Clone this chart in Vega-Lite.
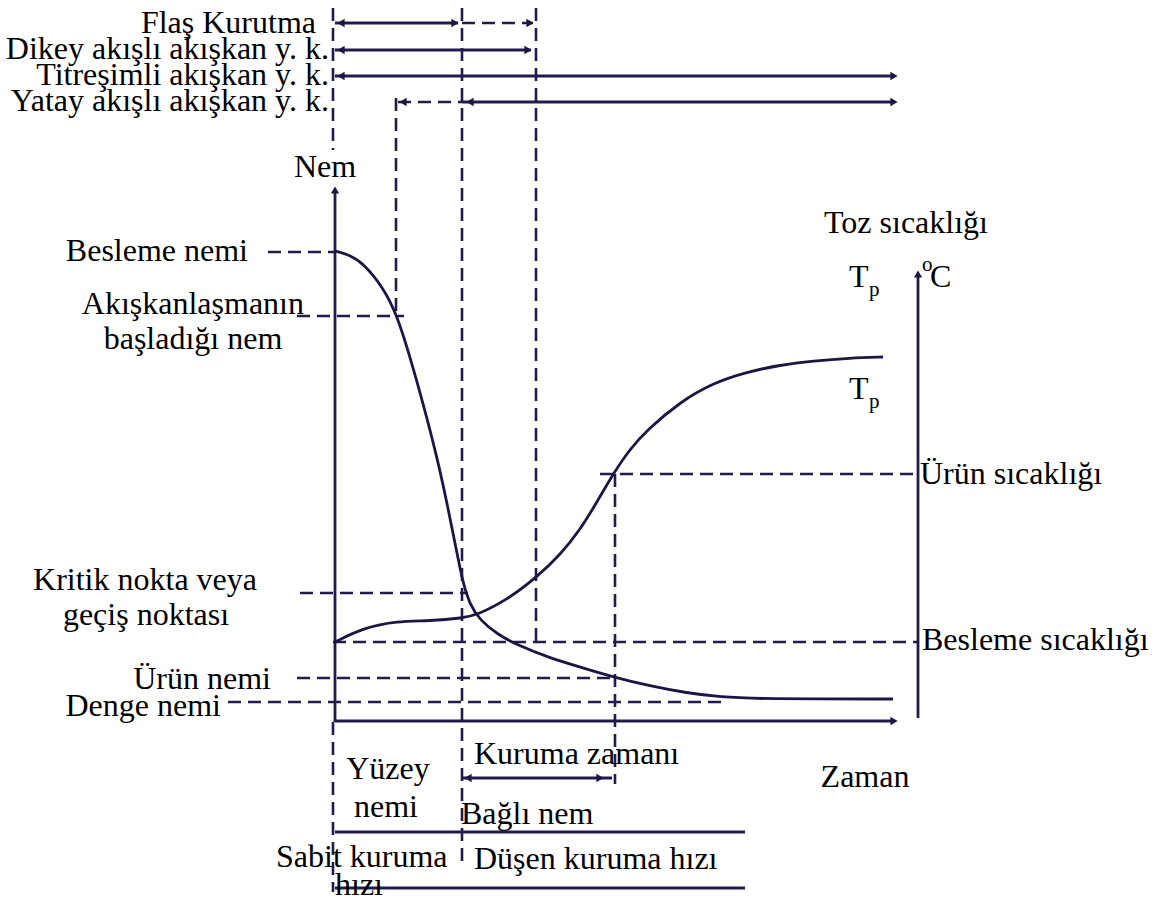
{
  "$schema": "https://vega.github.io/schema/vega-lite/v6.json",
  "width": 1157,
  "height": 902,
  "autosize": {"type": "fit", "contains": "padding"},
  "padding": 0,
  "background": "#ffffff",
  "config": {"view": {"stroke": null}, "text": {"font": "Times New Roman"}},
  "datasets": {
    "solid": [
      {"name": "nem ekseni", "x": 335, "y": 722, "x2": 335, "y2": 192},
      {"name": "zaman ekseni", "x": 335, "y": 721, "x2": 894, "y2": 721},
      {"name": "sıcaklık ekseni", "x": 918, "y": 718, "x2": 918, "y2": 276},
      {"name": "Flaş", "x": 335, "y": 23, "x2": 458, "y2": 23},
      {"name": "Dikey", "x": 335, "y": 50, "x2": 531, "y2": 50},
      {"name": "Titreşimli", "x": 335, "y": 76, "x2": 894, "y2": 76},
      {"name": "Yatay", "x": 462, "y": 102, "x2": 894, "y2": 102},
      {"name": "Kuruma zamanı", "x": 462, "y": 778, "x2": 612, "y2": 778},
      {"name": "Bağlı nem", "x": 335, "y": 832, "x2": 745, "y2": 832},
      {"name": "Düşen kuruma hızı", "x": 335, "y": 888, "x2": 745, "y2": 888}
    ],
    "dashed": [
      {"name": "sol üst", "x": 333, "y": 8, "x2": 333, "y2": 150},
      {"name": "sol alt", "x": 333, "y": 722, "x2": 333, "y2": 892},
      {"name": "kritik dikey", "x": 462, "y": 8, "x2": 462, "y2": 864},
      {"name": "flaş sonu", "x": 536, "y": 8, "x2": 536, "y2": 642},
      {"name": "yatay başlangıç", "x": 396, "y": 98, "x2": 396, "y2": 316},
      {"name": "ürün dikey", "x": 615, "y": 474, "x2": 615, "y2": 784},
      {"name": "Flaş kesik", "x": 462, "y": 23, "x2": 533, "y2": 23},
      {"name": "Yatay kesik", "x": 398, "y": 102, "x2": 462, "y2": 102},
      {"name": "Besleme nemi", "x": 268, "y": 252, "x2": 335, "y2": 252},
      {"name": "Akışkanlaşma", "x": 297, "y": 316, "x2": 404, "y2": 316},
      {"name": "Kritik", "x": 300, "y": 593, "x2": 468, "y2": 593},
      {"name": "Besleme sıcaklığı", "x": 333, "y": 642, "x2": 918, "y2": 642},
      {"name": "Ürün sıcaklığı", "x": 600, "y": 474, "x2": 918, "y2": 474},
      {"name": "Ürün nemi", "x": 297, "y": 678, "x2": 615, "y2": 678},
      {"name": "Denge nemi", "x": 228, "y": 702, "x2": 722, "y2": 702}
    ],
    "curves": [
      {"curve": "nem", "i": 1, "x": 335, "y": 251},
      {"curve": "nem", "i": 2, "x": 350, "y": 255},
      {"curve": "nem", "i": 3, "x": 363, "y": 263},
      {"curve": "nem", "i": 4, "x": 383, "y": 287},
      {"curve": "nem", "i": 5, "x": 397, "y": 315},
      {"curve": "nem", "i": 6, "x": 410, "y": 357},
      {"curve": "nem", "i": 7, "x": 423, "y": 403},
      {"curve": "nem", "i": 8, "x": 437, "y": 457},
      {"curve": "nem", "i": 9, "x": 447, "y": 503},
      {"curve": "nem", "i": 10, "x": 457, "y": 553},
      {"curve": "nem", "i": 11, "x": 463, "y": 583},
      {"curve": "nem", "i": 12, "x": 470, "y": 605},
      {"curve": "nem", "i": 13, "x": 480, "y": 620},
      {"curve": "nem", "i": 14, "x": 497, "y": 634},
      {"curve": "nem", "i": 15, "x": 517, "y": 645},
      {"curve": "nem", "i": 16, "x": 550, "y": 658},
      {"curve": "nem", "i": 17, "x": 580, "y": 667},
      {"curve": "nem", "i": 18, "x": 613, "y": 677},
      {"curve": "nem", "i": 19, "x": 650, "y": 686},
      {"curve": "nem", "i": 20, "x": 687, "y": 693},
      {"curve": "nem", "i": 21, "x": 720, "y": 697},
      {"curve": "nem", "i": 22, "x": 760, "y": 699},
      {"curve": "nem", "i": 23, "x": 893, "y": 699},
      {"curve": "sıcaklık", "i": 1, "x": 335, "y": 642},
      {"curve": "sıcaklık", "i": 2, "x": 363, "y": 628},
      {"curve": "sıcaklık", "i": 3, "x": 397, "y": 621},
      {"curve": "sıcaklık", "i": 4, "x": 430, "y": 621},
      {"curve": "sıcaklık", "i": 5, "x": 463, "y": 618},
      {"curve": "sıcaklık", "i": 6, "x": 477, "y": 615},
      {"curve": "sıcaklık", "i": 7, "x": 507, "y": 600},
      {"curve": "sıcaklık", "i": 8, "x": 537, "y": 577},
      {"curve": "sıcaklık", "i": 9, "x": 560, "y": 555},
      {"curve": "sıcaklık", "i": 10, "x": 580, "y": 530},
      {"curve": "sıcaklık", "i": 11, "x": 597, "y": 502},
      {"curve": "sıcaklık", "i": 12, "x": 613, "y": 474},
      {"curve": "sıcaklık", "i": 13, "x": 630, "y": 449},
      {"curve": "sıcaklık", "i": 14, "x": 647, "y": 430},
      {"curve": "sıcaklık", "i": 15, "x": 680, "y": 402},
      {"curve": "sıcaklık", "i": 16, "x": 713, "y": 383},
      {"curve": "sıcaklık", "i": 17, "x": 747, "y": 372},
      {"curve": "sıcaklık", "i": 18, "x": 780, "y": 365},
      {"curve": "sıcaklık", "i": 19, "x": 813, "y": 361},
      {"curve": "sıcaklık", "i": 20, "x": 850, "y": 358},
      {"curve": "sıcaklık", "i": 21, "x": 883, "y": 357}
    ],
    "heads": [
      {"x": 335, "y": 190, "dir": "up"},
      {"x": 918, "y": 274, "dir": "up"},
      {"x": 894, "y": 721, "dir": "right"},
      {"x": 341, "y": 23, "dir": "left"},
      {"x": 455, "y": 23, "dir": "right"},
      {"x": 530, "y": 23, "dir": "right"},
      {"x": 341, "y": 50, "dir": "left"},
      {"x": 528, "y": 50, "dir": "right"},
      {"x": 341, "y": 76, "dir": "left"},
      {"x": 894, "y": 76, "dir": "right"},
      {"x": 403, "y": 102, "dir": "left"},
      {"x": 470, "y": 102, "dir": "left"},
      {"x": 894, "y": 102, "dir": "right"},
      {"x": 468, "y": 778, "dir": "left"},
      {"x": 600, "y": 778, "dir": "right"}
    ],
    "labels": [
      {"text": "Flaş Kurutma", "x": 316, "y": 23, "align": "right"},
      {"text": "Dikey akışlı akışkan y. k.", "x": 329, "y": 49, "align": "right"},
      {"text": "Titreşimli akışkan y. k.", "x": 329, "y": 75, "align": "right"},
      {"text": "Yatay akışlı akışkan y. k.", "x": 329, "y": 101, "align": "right"},
      {"text": "Besleme nemi", "x": 248, "y": 251, "align": "right"},
      {"text": "Akışkanlaşmanın", "x": 304, "y": 304, "align": "right"},
      {"text": "Kritik nokta veya", "x": 257, "y": 580, "align": "right"},
      {"text": "Ürün nemi", "x": 271, "y": 679, "align": "right"},
      {"text": "Denge nemi", "x": 221, "y": 706, "align": "right"},
      {"text": "Nem", "x": 325, "y": 167, "align": "center"},
      {"text": "başladığı nem", "x": 193, "y": 339, "align": "center"},
      {"text": "geçiş noktası", "x": 146, "y": 615, "align": "center"},
      {"text": "Toz  sıcaklığı", "x": 906, "y": 223, "align": "center"},
      {"text": "Yüzey", "x": 388, "y": 769, "align": "center"},
      {"text": "nemi", "x": 386, "y": 807, "align": "center"},
      {"text": "Zaman", "x": 865, "y": 777, "align": "center"},
      {"text": "Besleme sıcaklığı", "x": 922, "y": 640, "align": "left"},
      {"text": "Ürün sıcaklığı", "x": 920, "y": 474, "align": "left"},
      {"text": "Kuruma zamanı", "x": 474, "y": 754, "align": "left"},
      {"text": "Bağlı nem", "x": 461, "y": 814, "align": "left"},
      {"text": "Sabit kuruma", "x": 276, "y": 857, "align": "left"},
      {"text": "hızı", "x": 335, "y": 885, "align": "left"},
      {"text": "Düşen kuruma hızı", "x": 474, "y": 859, "align": "left"},
      {"text": "T", "x": 849, "y": 277, "align": "left"},
      {"text": "C", "x": 930, "y": 277, "align": "left"},
      {"text": "T", "x": 849, "y": 389, "align": "left"}
    ],
    "small": [
      {"text": "p", "x": 869, "y": 290},
      {"text": "o", "x": 922, "y": 265},
      {"text": "p", "x": 869, "y": 402}
    ]
  },
  "encoding": {
    "x": {"field": "x", "type": "quantitative", "axis": null,
          "scale": {"domain": [0, 1157], "nice": false, "zero": false}},
    "y": {"field": "y", "type": "quantitative", "axis": null,
          "scale": {"domain": [0, 902], "reverse": true, "nice": false, "zero": false}}
  },
  "layer": [
    {
      "data": {"name": "dashed"},
      "mark": {"type": "rule", "color": "#221b4b", "strokeWidth": 2.6, "strokeDash": [13, 7]},
      "encoding": {"x2": {"field": "x2"}, "y2": {"field": "y2"}}
    },
    {
      "data": {"name": "solid"},
      "mark": {"type": "rule", "color": "#221b4b", "strokeWidth": 2.8},
      "encoding": {"x2": {"field": "x2"}, "y2": {"field": "y2"}}
    },
    {
      "data": {"name": "curves"},
      "mark": {"type": "line", "color": "#1c1642", "strokeWidth": 2.8, "interpolate": "basis"},
      "encoding": {
        "detail": {"field": "curve"},
        "order": {"field": "i", "type": "quantitative"}
      }
    },
    {
      "data": {"name": "heads"},
      "mark": {"type": "point", "filled": true, "color": "#1c1642", "opacity": 1, "size": 70},
      "encoding": {
        "shape": {"field": "dir", "type": "nominal", "legend": null,
                  "scale": {"domain": ["left", "right", "up"],
                            "range": ["triangle-left", "triangle-right", "triangle-up"]}}
      }
    },
    {
      "data": {"name": "labels"},
      "transform": [{"filter": "datum.align === 'right'"}],
      "mark": {"type": "text", "align": "right", "baseline": "middle", "fontSize": 32, "color": "#000000"},
      "encoding": {"text": {"field": "text"}}
    },
    {
      "data": {"name": "labels"},
      "transform": [{"filter": "datum.align === 'center'"}],
      "mark": {"type": "text", "align": "center", "baseline": "middle", "fontSize": 32, "color": "#000000"},
      "encoding": {"text": {"field": "text"}}
    },
    {
      "data": {"name": "labels"},
      "transform": [{"filter": "datum.align === 'left'"}],
      "mark": {"type": "text", "align": "left", "baseline": "middle", "fontSize": 32, "color": "#000000"},
      "encoding": {"text": {"field": "text"}}
    },
    {
      "data": {"name": "small"},
      "mark": {"type": "text", "align": "left", "baseline": "middle", "fontSize": 21, "color": "#000000"},
      "encoding": {"text": {"field": "text"}}
    }
  ]
}
